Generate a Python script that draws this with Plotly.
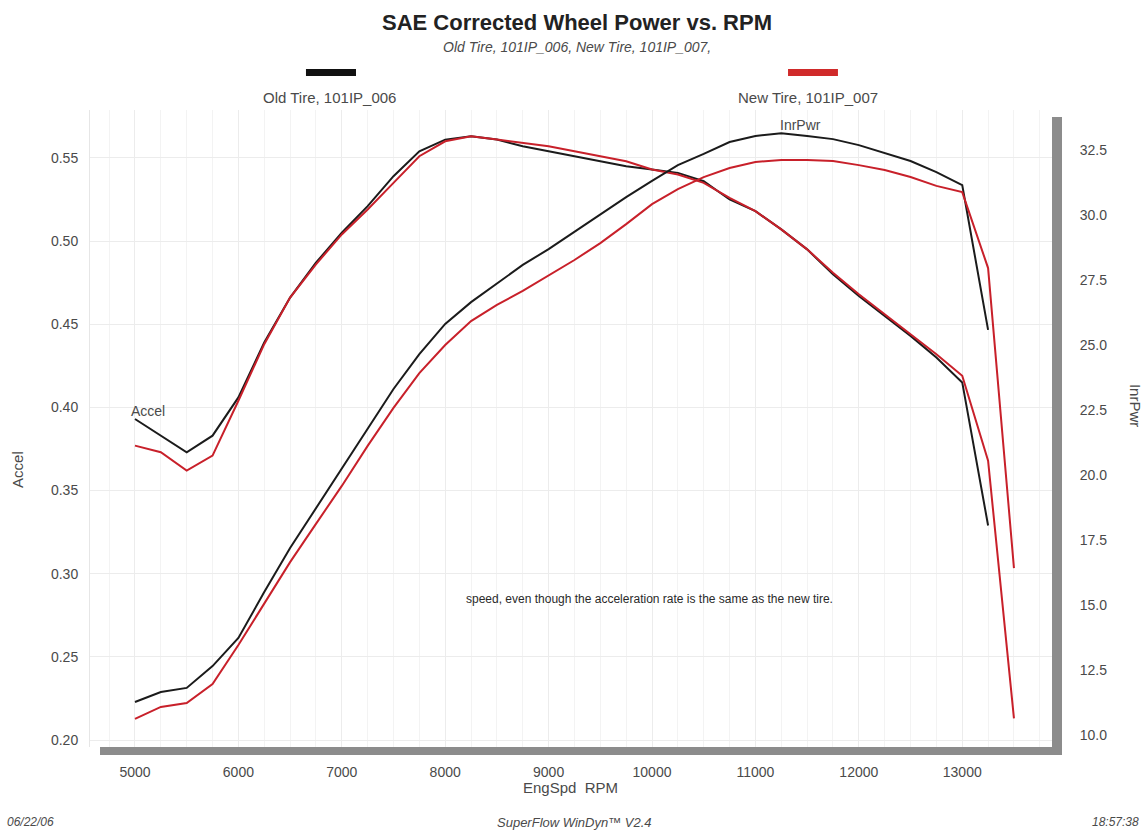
import plotly.graph_objects as go

# engine speed steps of the two runs (RPM)
rpm_old = [5000, 5250, 5500, 5750, 6000, 6250, 6500, 6750, 7000, 7250, 7500, 7750,
           8000, 8250, 8500, 8750, 9000, 9250, 9500, 9750, 10000, 10250, 10500, 10750,
           11000, 11250, 11500, 11750, 12000, 12250, 12500, 12750, 13000, 13250]
rpm_new = rpm_old + [13500]

# Old Tire, 101IP_006
old_accel = [0.393, 0.383, 0.373, 0.383, 0.406, 0.439, 0.466, 0.487, 0.505, 0.521, 0.539, 0.554,
             0.561, 0.563, 0.561, 0.557, 0.554, 0.551, 0.548, 0.545, 0.543, 0.541, 0.536, 0.525,
             0.518, 0.507, 0.495, 0.480, 0.467, 0.455, 0.443, 0.430, 0.415, 0.329]
old_inrpwr = [11.27, 11.65, 11.81, 12.65, 13.73, 15.50, 17.19, 18.73, 20.27, 21.81, 23.31, 24.65,
              25.81, 26.65, 27.35, 28.08, 28.69, 29.35, 30.00, 30.69, 31.31, 31.92, 32.35, 32.81,
              33.04, 33.15, 33.04, 32.92, 32.69, 32.38, 32.08, 31.65, 31.15, 25.58]

# New Tire, 101IP_007
new_accel = [0.377, 0.373, 0.362, 0.371, 0.404, 0.438, 0.466, 0.486, 0.504, 0.519, 0.535, 0.551,
             0.560, 0.563, 0.561, 0.559, 0.557, 0.554, 0.551, 0.548, 0.543, 0.540, 0.535, 0.526,
             0.518, 0.507, 0.495, 0.481, 0.468, 0.456, 0.444, 0.432, 0.419, 0.368, 0.213]
new_inrpwr = [10.62, 11.08, 11.23, 11.96, 13.46, 15.08, 16.65, 18.12, 19.58, 21.12, 22.58, 23.92,
              25.00, 25.92, 26.54, 27.08, 27.69, 28.27, 28.92, 29.65, 30.42, 31.00, 31.46, 31.81,
              32.04, 32.12, 32.12, 32.08, 31.92, 31.73, 31.46, 31.12, 30.88, 27.96, 16.42]

x_ticks = [5000, 6000, 7000, 8000, 9000, 10000, 11000, 12000, 13000]
accel_ticks = [0.20, 0.25, 0.30, 0.35, 0.40, 0.45, 0.50, 0.55]
pwr_ticks = [10.0, 12.5, 15.0, 17.5, 20.0, 22.5, 25.0, 27.5, 30.0, 32.5]

BLACK = "#1b1b1b"
RED = "#c8202a"
TXT = "#4a4a4a"
SHADOW = "#8c8c8c"
FONT = "Liberation Sans, Arial, sans-serif"

fig = go.Figure()
fig.add_trace(go.Scatter(x=rpm_old, y=old_accel, mode="lines", line=dict(color=BLACK, width=2),
                         name="Old Tire Accel", yaxis="y"))
fig.add_trace(go.Scatter(x=rpm_old, y=old_inrpwr, mode="lines", line=dict(color=BLACK, width=2),
                         name="Old Tire InrPwr", yaxis="y2"))
fig.add_trace(go.Scatter(x=rpm_new, y=new_accel, mode="lines", line=dict(color=RED, width=2),
                         name="New Tire Accel", yaxis="y"))
fig.add_trace(go.Scatter(x=rpm_new, y=new_inrpwr, mode="lines", line=dict(color=RED, width=2),
                         name="New Tire InrPwr", yaxis="y2"))

tick_font = dict(family=FONT, size=14, color=TXT)
grid = "#ececec"

fig.update_layout(
    width=1147, height=833,
    margin=dict(l=90, r=95, t=110, b=86),
    paper_bgcolor="white", plot_bgcolor="white",
    showlegend=False,
    font=dict(family=FONT, color=TXT),
    xaxis=dict(range=[4565, 13868], tickvals=x_ticks, tickformat="d", ticks="outside", ticklen=12,
               tickcolor="rgba(0,0,0,0)", tickfont=tick_font,
               showgrid=True, gridcolor=grid, gridwidth=1,
               minor=dict(dtick=250, tick0=5000, showgrid=True, gridcolor="#f3f3f3"),
               zeroline=False, showline=False),
    yaxis=dict(range=[0.1958, 0.5788], tickvals=accel_ticks, tickformat=".2f",
               ticks="outside", ticklen=8, tickcolor="rgba(0,0,0,0)", tickfont=tick_font,
               showgrid=True, gridcolor=grid, zeroline=False,
               showline=True, linecolor="#e6e6e6"),
    yaxis2=dict(range=[9.538, 34.04], tickvals=pwr_ticks, tickformat=".1f",
                overlaying="y", side="right", ticks="outside", ticklen=24,
                tickcolor="rgba(0,0,0,0)", tickfont=tick_font,
                showgrid=False, zeroline=False),
)

# drop shadow of the plot box
fig.add_shape(type="rect", xref="paper", yref="paper", x0=0.0104, x1=1.0104, y0=-0.0126, y1=0.0,
              fillcolor=SHADOW, line=dict(width=0), layer="above")
fig.add_shape(type="rect", xref="paper", yref="paper", x0=1.0, x1=1.0104, y0=-0.0126, y1=0.989,
              fillcolor=SHADOW, line=dict(width=0), layer="above")

# legend swatches
fig.add_shape(type="rect", xref="paper", yref="paper", x0=0.2245, x1=0.2765, y0=1.0535, y1=1.0645,
              fillcolor="#111111", line=dict(width=0))
fig.add_shape(type="rect", xref="paper", yref="paper", x0=0.7256, x1=0.7775, y0=1.0535, y1=1.0645,
              fillcolor="#d02a2a", line=dict(width=0))

ann = [
    dict(text="<b>SAE Corrected Wheel Power vs. RPM</b>", x=0.506, y=1.138,
         font=dict(size=22, color="#222222")),
    dict(text="<i>Old Tire, 101IP_006, New Tire, 101IP_007,</i>", x=0.506, y=1.099,
         font=dict(size=14, color=TXT)),
    dict(text="Old Tire, 101IP_006", x=0.249, y=1.019, font=dict(size=15, color=TXT)),
    dict(text="New Tire, 101IP_007", x=0.746, y=1.019, font=dict(size=15, color=TXT)),
    dict(text="EngSpd  RPM", x=0.499, y=-0.064, font=dict(size=15, color=TXT)),
    dict(text="<i>SuperFlow WinDyn™ V2.4</i>", x=0.504, y=-0.118, font=dict(size=13, color=TXT)),
    dict(text="<i>06/22/06</i>", x=-0.062, y=-0.118, font=dict(size=12, color=TXT)),
    dict(text="<i>18:57:38</i>", x=1.066, y=-0.118, font=dict(size=12, color=TXT)),
    dict(text="Accel", x=-0.0748, y=0.435, textangle=-90, font=dict(size=15, color=TXT)),
    dict(text="InrPwr", x=1.0863, y=0.537, textangle=90, font=dict(size=15, color=TXT)),
    dict(text="speed, even though the acceleration rate is the same as the new tire.",
         x=0.582, y=0.232, font=dict(size=12, color="#2a2a2a")),
]
for a in ann:
    fig.add_annotation(xref="paper", yref="paper", showarrow=False,
                       xanchor="center", yanchor="middle", **a)

# curve labels
fig.add_annotation(x=5126, y=0.398, xref="x", yref="y", text="Accel", showarrow=False,
                   xanchor="center", yanchor="middle", font=dict(size=14, color=TXT))
fig.add_annotation(x=11431, y=33.46, xref="x", yref="y2", text="InrPwr", showarrow=False,
                   xanchor="center", yanchor="middle", font=dict(size=14, color=TXT))

# page body margin would shift the figure by 8 px
fig.write_html("out.html", config={"displayModeBar": False},
               post_script="document.body.style.margin='0';document.body.style.overflow='hidden';")
